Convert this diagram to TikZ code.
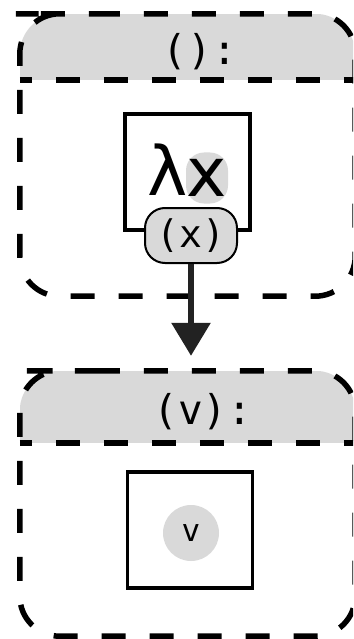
\documentclass[tikz,border=0pt]{standalone}
\usepackage{fontspec}
\setmainfont{DejaVu Sans}
\newfontfamily\codefont{DejaVu Sans Mono}
\usetikzlibrary{arrows.meta}
\definecolor{bandgray}{HTML}{D9D9D9}
\definecolor{ink}{HTML}{222222}

\begin{document}
\begin{tikzpicture}[x=1pt, y=-1pt,
    frame/.style={minimum width=335pt, inner sep=0pt},
    outline/.style={line width=5.5pt, dash pattern=on 24pt off 24pt, rounded corners=40pt},
    headtext/.style={inner sep=0pt, font=\codefont\fontsize{41}{41}\selectfont},
    body/.style={draw, line width=3.5pt, inner sep=0pt, minimum width=125pt, minimum height=116pt},
    varbg/.style={fill=bandgray, rounded corners=18pt, inner sep=0pt, minimum width=42pt, minimum height=51pt},
    argpill/.style={draw, line width=2pt, fill=bandgray, rounded corners=20pt, inner sep=0pt,
        minimum width=92pt, minimum height=55pt, font=\codefont\fontsize{38}{38}\selectfont},
    flow/.style={draw=ink, line width=6pt, -{Triangle[width=38pt, length=33pt]}, shorten >=15pt}]
    \useasboundingbox (0,0) rectangle (353,639);
    \clip (0,0) rectangle (353,639);

    % The two frames (right side runs off the page)
    \node[frame, minimum height=282pt] (lamframe) at (187.5,155) {};
    \node[frame, minimum height=265pt] (appframe) at (187.5,503.5) {};

    % Grey header bands
    \begin{scope}
        \clip[rounded corners=40pt] (lamframe.south west) rectangle (lamframe.north east);
        \fill[bandgray] (lamframe.north west) rectangle ([yshift=-66pt]lamframe.north east);
    \end{scope}
    \begin{scope}
        \clip[rounded corners=40pt] (appframe.south west) rectangle (appframe.north east);
        \fill[bandgray] (appframe.north west) rectangle ([yshift=-72pt]appframe.north east);
    \end{scope}

    % Dashed outlines and header separators
    \draw[outline] ([xshift=36pt]lamframe.north west) -- (lamframe.north east) -- (lamframe.south east)
        -- (lamframe.south west) -- (lamframe.north west) -- cycle;
    \draw[outline, dash phase=12pt] ([yshift=-66pt]lamframe.north west) -- ([yshift=-66pt]lamframe.north east);
    \draw[outline] ([xshift=36pt]appframe.north west) -- (appframe.north east) -- (appframe.south east)
        -- (appframe.south west) -- (appframe.north west) -- cycle;
    \draw[outline, dash phase=12pt] ([yshift=-72pt]appframe.north west) -- ([yshift=-72pt]appframe.north east);

    % Header labels
    \node[headtext] (lamhead) at (200,52) {():};
    \node[headtext] (apphead) at (203,412) {(v):};

    % Lambda box with its argument pill
    \node[body] (lambody) at (187.5,172) {};
    \node[font=\fontsize{68}{68}\selectfont, inner sep=0pt] (lam) at (168,170) {λ};
    \node[varbg, font=\fontsize{68}{68}\selectfont] (xvar) at (207,178) {x};
    \node[argpill] (xpill) at (191,235.5) {(x)};

    % Value box
    \node[body] (valbody) at (190,530) {};
    \node[circle, fill=bandgray, minimum size=56pt, inner sep=0pt, font=\codefont\fontsize{31}{31}\selectfont] (vval) at (191,533) {v};

    % Step down to the applied frame
    \draw[flow] (xpill.south) -- (xpill.south |- appframe.north);
\end{tikzpicture}
\end{document}
